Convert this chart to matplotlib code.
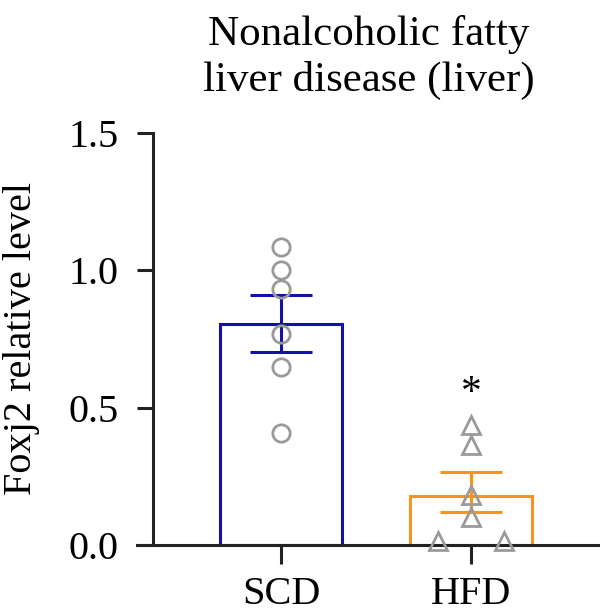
"""
Foxj2 relative level in liver, SCD vs HFD.
"""
import matplotlib
matplotlib.use("Agg")
import matplotlib.pyplot as plt

groups = ["SCD", "HFD"]
means = [0.805, 0.178]
err_low = [0.103, 0.059]
err_high = [0.105, 0.089]
scd_points = [1.086, 1.0, 0.932, 0.768, 0.649, 0.406]
hfd_points = [0.437, 0.364, 0.182, 0.103, 0.015, 0.015]
hfd_offsets = [0, 0, 0, 0, -0.175, 0.175]

blue = "#1212aa"
orange = "#f7931e"
grey = "#9a9a9a"


def main():
    plt.rcParams["font.family"] = ["Liberation Serif", "DejaVu Serif"]
    fig = plt.figure(figsize=(6.0, 6.13), dpi=100)
    ax = fig.add_axes([0.2283, 0.1109, 0.7717, 0.6726])

    x = list(range(len(groups)))
    colors = [blue, orange]
    for i in x:
        ax.bar(i, means[i], width=0.647, facecolor="white", edgecolor=colors[i],
               linewidth=2.2, zorder=2)
        ax.errorbar(i, means[i], yerr=[[err_low[i]], [err_high[i]]], fmt="none",
                    ecolor=colors[i], elinewidth=2.2, capsize=22, capthick=2.2,
                    zorder=3)

    ax.plot([0] * len(scd_points), scd_points, "o", ms=12.5, mfc="none",
            mec=grey, mew=2, zorder=4, clip_on=False)
    ax.plot([1 + o for o in hfd_offsets], hfd_points, "^", ms=13, mfc="none",
            mec=grey, mew=2, zorder=4, clip_on=False)

    ax.text(1, 0.55, "*", ha="center", va="center", fontsize=30)

    ax.set_xlim(-0.758, 1.679)
    ax.set_ylim(0, 1.5)
    ax.set_yticks([0, 0.5, 1.0, 1.5])
    ax.set_yticklabels(["0.0", "0.5", "1.0", "1.5"])
    ax.set_xticks(x)
    ax.set_xticklabels(groups)

    for side in ["top", "right"]:
        ax.spines[side].set_visible(False)
    ax.spines["left"].set_position(("data", -0.674))
    for side in ["left", "bottom"]:
        ax.spines[side].set_linewidth(2.2)
        ax.spines[side].set_color("#222222")
    ax.tick_params(axis="both", width=2.2, color="#222222", labelsize=29)
    ax.tick_params(axis="y", length=11.5, pad=13)
    ax.tick_params(axis="x", length=14, pad=8)

    ax.set_ylabel("Foxj2 relative level", fontsize=29)
    ax.yaxis.set_label_coords(-0.21, 0.5)
    ax.set_title("Nonalcoholic fatty\nliver disease (liver)", fontsize=31,
                 linespacing=1.25, pad=30)

    fig.savefig("out.png", dpi=100)


if __name__ == "__main__":
    main()
